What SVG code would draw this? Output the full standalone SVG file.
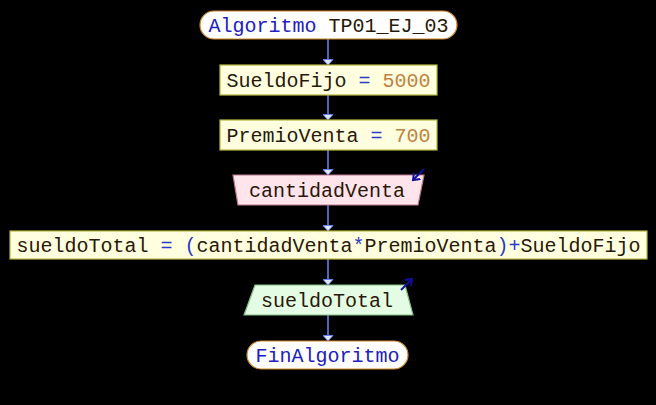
<svg xmlns="http://www.w3.org/2000/svg" width="656" height="405" viewBox="0 0 656 405">
<defs>
<style>
text{font-family:"Liberation Mono","DejaVu Sans Mono",monospace;font-size:20px;fill:#281808;text-anchor:middle}
.kw{fill:#2020c0}
.op{fill:#2838c8}
.num{fill:#c08040}
.term{fill:#ffffff;stroke:#d08828;stroke-width:1.2}
.proc{fill:#ffffe0;stroke:#b8b840;stroke-width:1.2}
.inp{fill:#ffe4ec;stroke:#c07890;stroke-width:1.2}
.outp{fill:#e4fce4;stroke:#80c080;stroke-width:1.2}
.conn{stroke:#6080f0;stroke-width:1.6;fill:none}
.io{stroke:#1010a0;stroke-width:2;fill:none}
</style>
<marker id="ah" markerWidth="7" markerHeight="11" refX="6" refY="5.5" orient="auto" markerUnits="userSpaceOnUse" viewBox="0 0 7 11">
<path d="M0.5,0.5 L6,5.5 L0.5,10.5 Z" fill="#e0e8ff" stroke="#6080f0" stroke-width="1"/>
</marker>
<marker id="ioh" markerWidth="8" markerHeight="10" refX="6" refY="5" orient="auto" markerUnits="userSpaceOnUse" viewBox="0 0 8 10">
<path d="M0,0.5 L6,5 L0,9.5" fill="none" stroke="#1010a0" stroke-width="2"/>
</marker>
</defs>
<rect width="656" height="405" fill="#000000"/>
<g id="connectors">
<line class="conn" x1="328" y1="39" x2="328" y2="65" marker-end="url(#ah)"/>
<line class="conn" x1="328" y1="95" x2="328" y2="120" marker-end="url(#ah)"/>
<line class="conn" x1="328" y1="150" x2="328" y2="175" marker-end="url(#ah)"/>
<line class="conn" x1="328" y1="205" x2="328" y2="231" marker-end="url(#ah)"/>
<line class="conn" x1="328" y1="259" x2="328" y2="285" marker-end="url(#ah)"/>
<line class="conn" x1="328" y1="315" x2="328" y2="341" marker-end="url(#ah)"/>
</g>
<g id="start">
<rect class="term" x="200" y="11" width="257" height="28" rx="14" ry="14"/>
<text x="328.5" y="32"><tspan class="kw">Algoritmo</tspan> TP01_EJ_03</text>
</g>
<g id="assign1">
<rect class="proc" x="220" y="65" width="217" height="30"/>
<text x="328.5" y="87">SueldoFijo <tspan class="op">=</tspan> <tspan class="num">5000</tspan></text>
</g>
<g id="assign2">
<rect class="proc" x="220" y="120" width="217" height="30"/>
<text x="328.5" y="142">PremioVenta <tspan class="op">=</tspan> <tspan class="num">700</tspan></text>
</g>
<g id="read">
<polygon class="inp" points="233,175 424,175 418,205 238,205"/>
<text x="327" y="197">cantidadVenta</text>
<line class="io" x1="424" y1="169" x2="413" y2="180" marker-end="url(#ioh)"/>
</g>
<g id="assign3">
<rect class="proc" x="10" y="231" width="637" height="28"/>
<text x="328.5" y="252">sueldoTotal <tspan class="op">=</tspan> <tspan class="op">(</tspan>cantidadVenta<tspan class="op">*</tspan>PremioVenta<tspan class="op">)+</tspan>SueldoFijo</text>
</g>
<g id="write">
<polygon class="outp" points="255,285 405,285 413,315 244,315"/>
<text x="327" y="307">sueldoTotal</text>
<line class="io" x1="401" y1="290" x2="412" y2="279" marker-end="url(#ioh)"/>
</g>
<g id="end">
<rect class="term" x="247" y="341" width="161" height="28" rx="14" ry="14"/>
<text x="327.5" y="362" class="kw">FinAlgoritmo</text>
</g>
</svg>
